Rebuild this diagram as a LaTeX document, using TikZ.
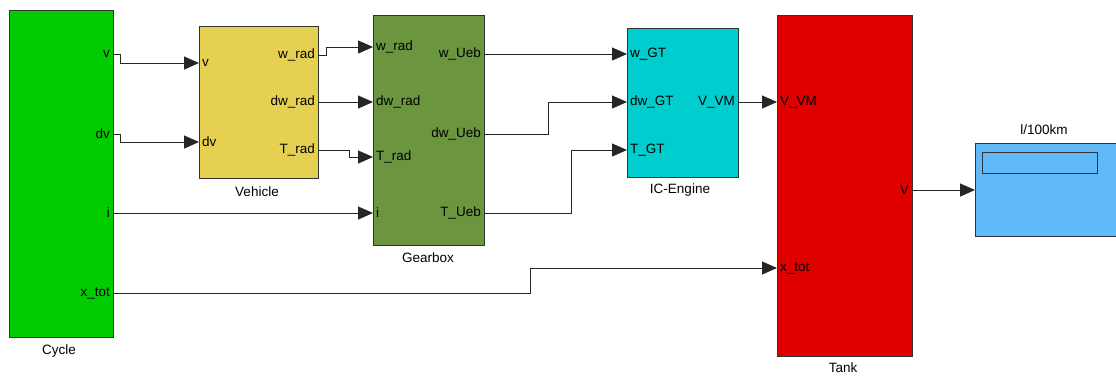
\documentclass[tikz,border=0pt]{standalone}
\usepackage{fontspec}
\setmainfont{Liberation Sans}
\usetikzlibrary{arrows.meta}
\definecolor{cyc}{RGB}{0,204,0}
\definecolor{veh}{RGB}{230,208,82}
\definecolor{gbx}{RGB}{107,150,63}
\definecolor{eng}{RGB}{0,206,206}
\definecolor{tnk}{RGB}{224,0,0}
\definecolor{dsp}{RGB}{96,186,250}
\begin{document}
\begin{tikzpicture}[x=1pt,y=-1pt,
  block/.style={draw=black!80, line width=1pt, rectangle, anchor=north west, inner sep=0pt},
  plab/.style={font=\fontsize{13.5}{15}\selectfont, inner sep=0pt},
  blab/.style={font=\fontsize{13.5}{15}\selectfont, inner sep=0pt},
  wire/.style={line width=1pt, black!85, -{Triangle[length=15pt,width=13pt]}}]
\useasboundingbox (0,0) rectangle (1116,376);
% blocks
\node[block, fill=cyc, minimum width=104pt, minimum height=327pt] (cycle) at (9,10) {};
\node[block, fill=veh, minimum width=119pt, minimum height=152pt] (vehicle) at (199,26) {};
\node[block, fill=gbx, minimum width=111pt, minimum height=230pt] (gearbox) at (373,15) {};
\node[block, fill=eng, minimum width=111pt, minimum height=149pt] (engine) at (627,28) {};
\node[block, fill=tnk, minimum width=135pt, minimum height=341pt] (tank) at (777,15) {};
\node[block, fill=dsp, minimum width=150pt, minimum height=93pt] (display) at (975,143) {};
\node[draw=black!80, line width=1pt, fill=dsp, anchor=north west, minimum width=115pt, minimum height=21pt, inner sep=0pt] (dispwin) at (982,152) {};
% block labels
\node[blab] (lcycle) at (59,351) {Cycle};
\node[blab] (lvehicle) at (257,192) {Vehicle};
\node[blab] (lgearbox) at (428,258) {Gearbox};
\node[blab] (lengine) at (680,190) {IC-Engine};
\node[blab] (ltank) at (843,368) {Tank};
\node[blab] (ldisplay) at (1044,130) {l/100km};
% port coordinates
\coordinate (cy-v) at (113,54);
\coordinate (cy-dv) at (113,134);
\coordinate (cy-i) at (113,213);
\coordinate (cy-x) at (113,293);
\coordinate (ve-v) at (199,63);
\coordinate (ve-dv) at (199,142);
\coordinate (ve-w) at (318,55);
\coordinate (ve-dw) at (318,102);
\coordinate (ve-T) at (318,150);
\coordinate (gb-w) at (373,47);
\coordinate (gb-dw) at (373,102);
\coordinate (gb-T) at (373,157);
\coordinate (gb-i) at (373,213);
\coordinate (gb-wo) at (484,54);
\coordinate (gb-dwo) at (484,134);
\coordinate (gb-To) at (484,213);
\coordinate (en-w) at (627,54);
\coordinate (en-dw) at (627,102);
\coordinate (en-T) at (627,150);
\coordinate (en-V) at (738,102);
\coordinate (tk-V) at (777,102);
\coordinate (tk-x) at (777,268);
\coordinate (tk-Vo) at (912,190);
\coordinate (ds-in) at (975,190);
% port labels
\node[plab, anchor=east] at ([xshift=-3pt]cy-v) {v};
\node[plab, anchor=east] at ([xshift=-3pt]cy-dv) {dv};
\node[plab, anchor=east] at ([xshift=-3pt]cy-i) {i};
\node[plab, anchor=east] at ([xshift=-3pt]cy-x) {x\_tot};
\node[plab, anchor=west] at ([xshift=3pt]ve-v) {v};
\node[plab, anchor=west] at ([xshift=3pt]ve-dv) {dv};
\node[plab, anchor=east] at ([xshift=-3pt]ve-w) {w\_rad};
\node[plab, anchor=east] at ([xshift=-3pt]ve-dw) {dw\_rad};
\node[plab, anchor=east] at ([xshift=-3pt]ve-T) {T\_rad};
\node[plab, anchor=west] at ([xshift=3pt]gb-w) {w\_rad};
\node[plab, anchor=west] at ([xshift=3pt]gb-dw) {dw\_rad};
\node[plab, anchor=west] at ([xshift=3pt]gb-T) {T\_rad};
\node[plab, anchor=west] at ([xshift=3pt]gb-i) {i};
\node[plab, anchor=east] at ([xshift=-3pt]gb-wo) {w\_Ueb};
\node[plab, anchor=east] at ([xshift=-3pt]gb-dwo) {dw\_Ueb};
\node[plab, anchor=east] at ([xshift=-3pt]gb-To) {T\_Ueb};
\node[plab, anchor=west] at ([xshift=3pt]en-w) {w\_GT};
\node[plab, anchor=west] at ([xshift=3pt]en-dw) {dw\_GT};
\node[plab, anchor=west] at ([xshift=3pt]en-T) {T\_GT};
\node[plab, anchor=east] at ([xshift=-3pt]en-V) {V\_VM};
\node[plab, anchor=west] at ([xshift=3pt]tk-V) {V\_VM};
\node[plab, anchor=west] at ([xshift=3pt]tk-x) {x\_tot};
\node[plab, anchor=east] at ([xshift=-3pt]tk-Vo) {V};
% wires
\draw[wire] (cy-v) -- (120,54) |- (ve-v);
\draw[wire] (cy-dv) -- (120,134) |- (ve-dv);
\draw[wire] (cy-i) -- (gb-i);
\draw[wire] (cy-x) -- (530,293) |- (tk-x);
\draw[wire] (ve-w) -- (326,55) |- (gb-w);
\draw[wire] (ve-dw) -- (gb-dw);
\draw[wire] (ve-T) -- (349,150) |- (gb-T);
\draw[wire] (gb-wo) -- (en-w);
\draw[wire] (gb-dwo) -- (548,134) |- (en-dw);
\draw[wire] (gb-To) -- (571,213) |- (en-T);
\draw[wire] (en-V) -- (tk-V);
\draw[wire] (tk-Vo) -- (ds-in);
\end{tikzpicture}
\end{document}
